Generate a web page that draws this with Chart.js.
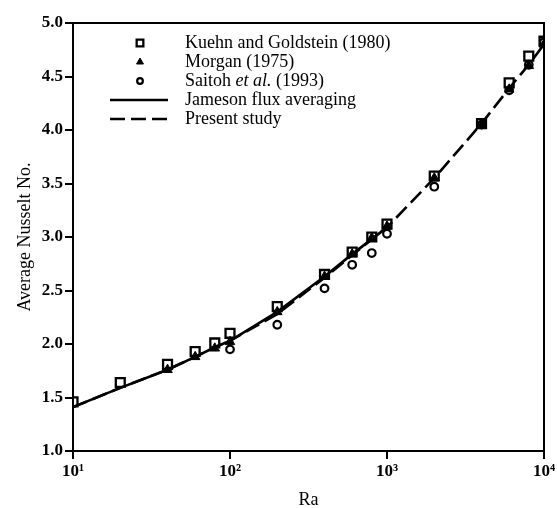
<!DOCTYPE html>
<html>
<head>
<meta charset="utf-8">
<script src="https://cdn.jsdelivr.net/npm/chart.js@4.4.1/dist/chart.umd.min.js"></script>
<style>
  html, body { margin: 0; padding: 0; background: #fff; }
</style>
</head>
<body>
<canvas id="nuChart" width="557" height="508"></canvas>
<script>
// Kuehn and Goldstein (1980) - open squares
const kuehnRa = [10, 20, 40, 60, 80, 100, 200, 400, 600, 800, 1000, 2000, 4000, 6000, 8000, 10000];
const kuehnNu = [1.46, 1.64, 1.81, 1.93, 2.01, 2.10, 2.35, 2.65, 2.86, 3.00, 3.12, 3.57, 4.06, 4.44, 4.69, 4.83];

// Morgan (1975) - filled triangles
const morganRa = [40, 60, 80, 100, 200, 400, 600, 800, 1000, 2000, 4000, 6000, 8000, 10000];
const morganNu = [1.76, 1.88, 1.96, 2.02, 2.30, 2.63, 2.84, 2.99, 3.10, 3.55, 4.05, 4.38, 4.60, 4.80];

// Saitoh et al. (1993) - open circles
const saitohRa = [100, 200, 400, 600, 800, 1000, 2000, 4000, 6000, 8000, 10000];
const saitohNu = [1.95, 2.18, 2.52, 2.74, 2.85, 3.03, 3.47, 4.05, 4.37, 4.61, 4.82];

// Jameson flux averaging - solid line
const jamesonRa = [10, 20, 40, 60, 80, 100, 200, 400, 600, 800, 1000];
const jamesonNu = [1.41, 1.59, 1.76, 1.88, 1.97, 2.03, 2.30, 2.63, 2.84, 2.98, 3.09];

// Present study - dashed line
const presentRa = [10, 20, 40, 60, 80, 100, 200, 400, 600, 800, 1000, 2000, 4000, 6000, 8000, 10000];
const presentNu = [1.41, 1.59, 1.76, 1.88, 1.97, 2.03, 2.28, 2.62, 2.83, 2.98, 3.09, 3.55, 4.06, 4.39, 4.61, 4.80];

const xTickValues = [10, 100, 1000, 10000];
const xTickLabels = ["10\u00B9", "10\u00B2", "10\u00B3", "10\u2074"];

const serif = "'Liberation Serif', 'Times New Roman', serif";

const toPoints = (xs, ys) => xs.map((x, i) => ({ x: x, y: ys[i] }));

// legend drawn inside the plot, top left
const insideLegend = {
  id: "insideLegend",
  afterDraw(chart) {
    const ctx = chart.ctx;
    const area = chart.chartArea;
    ctx.save();
    ctx.textBaseline = "middle";
    chart.data.datasets.forEach((ds, i) => {
      const y = area.top + 20 + i * 19;
      const cx = area.left + 67;
      if (ds.showLine) {
        ctx.beginPath();
        ctx.lineWidth = ds.borderWidth;
        ctx.strokeStyle = "#000";
        ctx.setLineDash(ds.borderDash || []);
        ctx.moveTo(area.left + 37, y);
        ctx.lineTo(area.left + 95, y);
        ctx.stroke();
        ctx.setLineDash([]);
      } else {
        ctx.fillStyle = ds.pointStyle === "triangle" ? "#000" : "#fff";
        ctx.strokeStyle = "#000";
        ctx.lineWidth = ds.pointBorderWidth;
        Chart.helpers.drawPoint(ctx, {
          pointStyle: ds.pointStyle,
          radius: ds.pointStyle === "triangle" ? 4 : ds.pointRadius * 0.75,
          borderWidth: ds.pointBorderWidth,
          rotation: 0
        }, cx, y);
      }
      // text, with "et al." in italics
      ctx.fillStyle = "#000";
      let tx = area.left + 112;
      const parts = ds.label.split(/(et al\.)/);
      parts.forEach(p => {
        ctx.font = (p === "et al." ? "italic " : "") + "18px " + serif;
        ctx.fillText(p, tx, y);
        tx += ctx.measureText(p).width;
      });
    });
    // frame around the plot
    ctx.lineWidth = 2;
    ctx.strokeStyle = "#000";
    ctx.strokeRect(area.left, area.top, area.right - area.left, area.bottom - area.top);
    ctx.restore();
  }
};

const chart = new Chart(document.getElementById("nuChart"), {
  type: "scatter",
  data: {
    datasets: [
      {
        label: "Kuehn and Goldstein (1980)",
        data: toPoints(kuehnRa, kuehnNu),
        pointStyle: "rect",
        pointRadius: 6.3,
        pointBorderWidth: 2.3,
        pointBorderColor: "#000",
        pointBackgroundColor: "rgba(255,255,255,0)",
        showLine: false
      },
      {
        label: "Morgan (1975)",
        data: toPoints(morganRa, morganNu),
        pointStyle: "triangle",
        pointRadius: 5.5,
        pointBorderWidth: 1,
        pointBorderColor: "#000",
        pointBackgroundColor: "#000",
        showLine: false
      },
      {
        label: "Saitoh et al. (1993)",
        data: toPoints(saitohRa, saitohNu),
        pointStyle: "circle",
        pointRadius: 3.8,
        pointBorderWidth: 2.2,
        pointBorderColor: "#000",
        pointBackgroundColor: "rgba(255,255,255,0)",
        showLine: false
      },
      {
        label: "Jameson flux averaging",
        data: toPoints(jamesonRa, jamesonNu),
        showLine: true,
        borderColor: "#000",
        borderWidth: 2.6,
        pointRadius: 0,
        fill: false
      },
      {
        label: "Present study",
        data: toPoints(presentRa, presentNu),
        showLine: true,
        borderColor: "#000",
        borderWidth: 2.6,
        borderDash: [15, 6],
        pointRadius: 0,
        fill: false
      }
    ]
  },
  options: {
    responsive: false,
    animation: false,
    layout: { padding: { top: 23, right: 13, left: 0, bottom: 0 } },
    plugins: {
      legend: { display: false },
      tooltip: { enabled: false }
    },
    scales: {
      x: {
        type: "logarithmic",
        min: 10,
        max: 10000,
        afterBuildTicks: (scale) => {
          scale.ticks = xTickValues.map(v => ({ value: v, major: true }));
        },
        afterFit: (scale) => {
          scale.height = 57;
          scale.paddingLeft = 0;
          scale.paddingRight = 0;
        },
        ticks: {
          color: "#000",
          font: { family: serif, size: 17, weight: "bold" },
          padding: 2,
          maxRotation: 0,
          autoSkip: false,
          callback: (v) => {
            const i = xTickValues.indexOf(v);
            return i >= 0 ? xTickLabels[i] : "";
          }
        },
        grid: { drawOnChartArea: false, color: "#000", lineWidth: 2, tickLength: 8 },
        border: { color: "#000", width: 2 },
        title: {
          display: true,
          text: "Ra",
          color: "#000",
          font: { family: serif, size: 18 },
          padding: { top: 0, bottom: -3 }
        }
      },
      y: {
        min: 1,
        max: 5,
        afterFit: (scale) => {
          scale.width = 73;
        },
        ticks: {
          stepSize: 0.5,
          color: "#000",
          font: { family: serif, size: 17, weight: "bold" },
          padding: 2,
          callback: (v) => v.toFixed(1)
        },
        grid: { drawOnChartArea: false, color: "#000", lineWidth: 2, tickLength: 8 },
        border: { color: "#000", width: 2 },
        title: {
          display: true,
          text: "Average Nusselt No.",
          color: "#000",
          font: { family: serif, size: 18 },
          padding: { top: 14, bottom: 0 }
        }
      }
    }
  },
  plugins: [insideLegend]
});
</script>
</body>
</html>
